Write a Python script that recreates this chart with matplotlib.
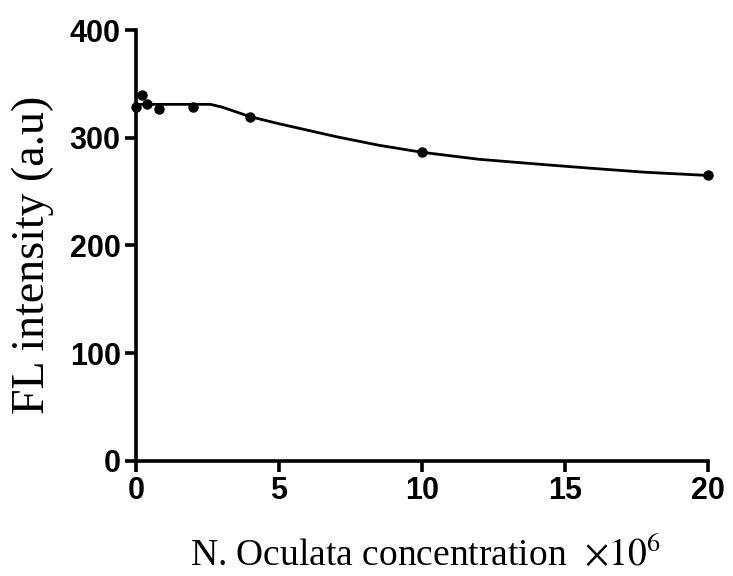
import matplotlib.pyplot as plt

# measured points
conc = [0, 0.2, 0.4, 0.8, 2, 4, 10, 20]
fl = [329, 340, 331, 327, 329, 319, 287, 265]

# fitted curve
curve_x = [0, 1, 2, 2.6, 3, 3.5, 4, 5, 6, 7, 8.5, 10, 12, 14.3, 16, 17.8, 20]
curve_y = [331, 331, 331, 331, 328.5, 324, 319.5, 313, 307, 301, 293, 286.5, 280, 275, 271.5, 268, 265]

fig = plt.figure(figsize=(7.33, 5.76), dpi=100)
ax = fig.add_axes([136/733, 1 - 461/576, (708 - 136)/733, (461 - 30)/576])

ax.plot(curve_x, curve_y, color='black', lw=2, zorder=2)
ax.plot(conc, fl, 'o', color='black', ms=6.5, zorder=3, clip_on=False)

ax.set_xlim(0, 20)
ax.set_ylim(0, 400)
ax.set_xticks([0, 5, 10, 15, 20])
ax.set_yticks([0, 100, 200, 300, 400])

for s in ['top', 'right']:
    ax.spines[s].set_visible(False)
for s in ['left', 'bottom']:
    ax.spines[s].set_linewidth(2.6)
ax.tick_params(direction='out', length=8, width=2.6, pad=3)
for lab in ax.get_xticklabels() + ax.get_yticklabels():
    lab.set_fontfamily('Liberation Sans')
    lab.set_fontweight('bold')
    lab.set_fontsize(22)

plt.rcParams['mathtext.fontset'] = 'stix'
fig.text(33/733, 1 - 255/576, 'FL intensity (a.u)', rotation=90, ha='center', va='center',
         fontsize=33, family='Liberation Serif')
fig.text(190/733, 1 - 566/576, r'N. Oculata concentration  $\times10^6$', ha='left', va='baseline',
         fontsize=27, family='Liberation Serif')

fig.savefig('out.png', dpi=100)
